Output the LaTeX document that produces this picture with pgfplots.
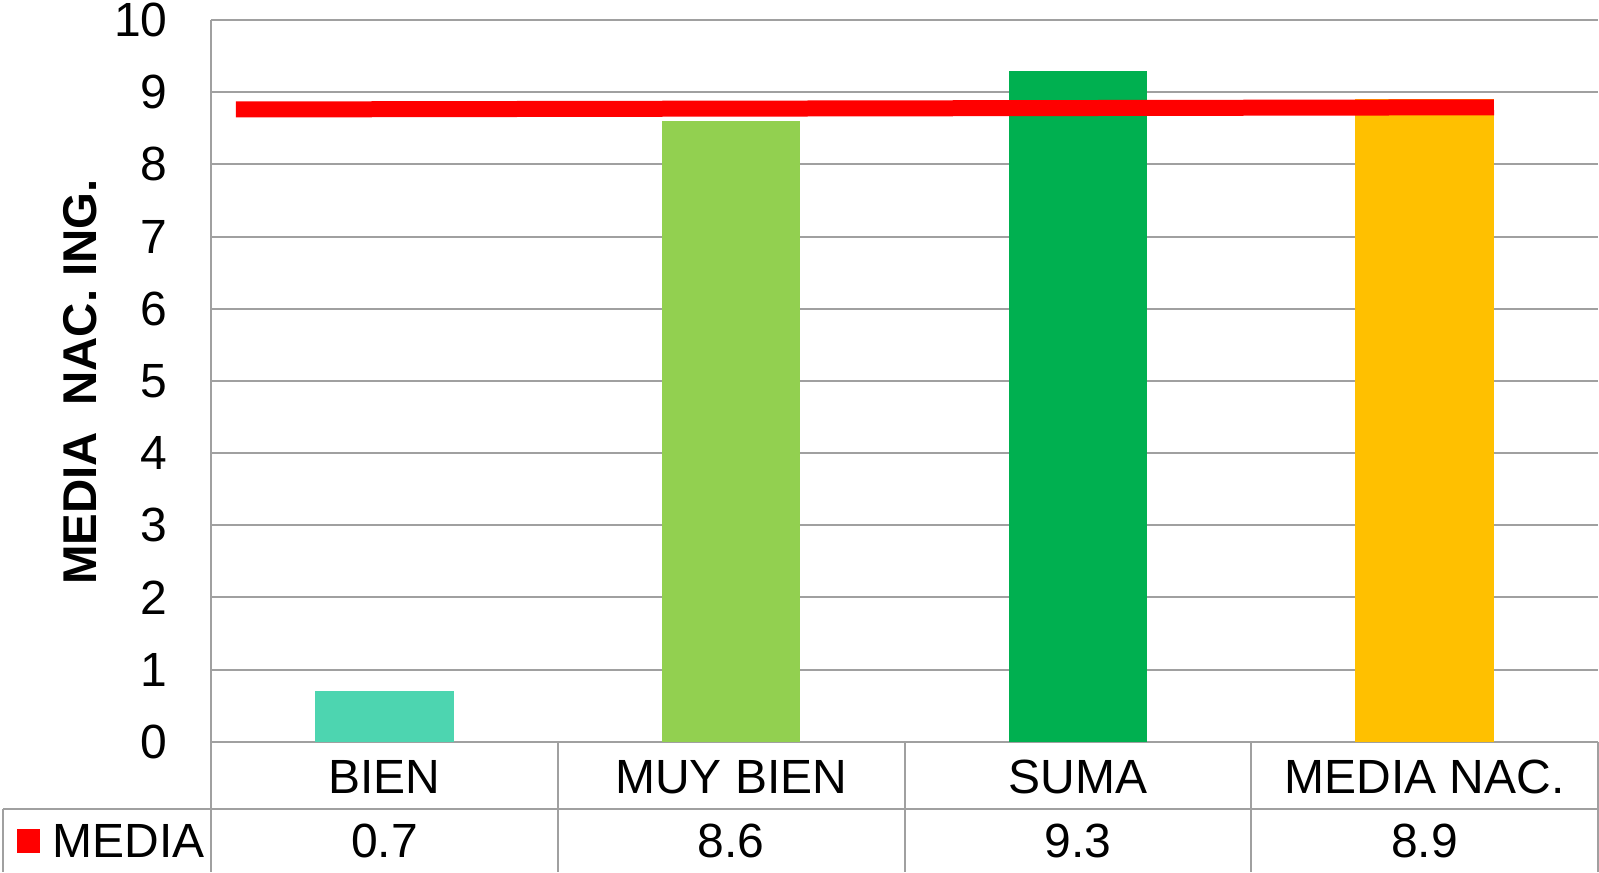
\documentclass[border=0pt]{standalone}
\usepackage{fontspec}
\setmainfont{Liberation Sans}
\usepackage{pgfplots}
\pgfplotsset{compat=1.18}
\definecolor{cBien}{HTML}{4DD5B0}
\definecolor{cMuy}{HTML}{92D050}
\definecolor{cSuma}{HTML}{00B050}
\definecolor{cNac}{HTML}{FFC000}
\definecolor{cGrid}{HTML}{A0A0A0}
\newcommand{\tfont}{\fontsize{24}{28}\selectfont}
\begin{document}
\begin{tikzpicture}
\begin{axis}[
  at={(0,0)}, anchor=south west,
  scale only axis, width=693.5pt, height=360.85pt,
  xmin=-0.5, xmax=3.5, ymin=0, ymax=10,
  axis line style={draw=none},
  ymajorgrids, grid style={cGrid, line width=1pt},
  ytick={0,1,...,10}, xtick={0,1,2,3},
  xticklabels={BIEN,MUY BIEN,SUMA,MEDIA NAC.},
  major tick length=0pt,
  tick label style={font=\tfont, inner sep=0pt},
  /pgf/number format/assume math mode=true,
  yticklabel style={anchor=east, xshift=-21.5pt},
  xticklabel style={anchor=base, yshift=-25.9pt},
  ylabel={MEDIA\ \ NAC. ING.},
  ylabel style={font=\fontsize{23.7}{28}\selectfont\bfseries, at={(axis description cs:-0.0945,0.4986)}, anchor=center, inner sep=0pt},
  clip=false,
  bar width=0.4, bar shift=0pt,
]
\addplot[ybar, fill=cBien, draw=none] coordinates {(0,0.7)};
\addplot[ybar, fill=cMuy, draw=none] coordinates {(1,8.6)};
\addplot[ybar, fill=cSuma, draw=none] coordinates {(2,9.3)};
\addplot[ybar, fill=cNac, draw=none] coordinates {(3,8.9)};
\addplot[red, line width=8pt, line cap=butt, mark=none] coordinates {(-0.428,8.76) (3.2,8.79)};
\addplot[draw=none, mark=none, point meta=explicit symbolic, nodes near coords,
  every node near coord/.append style={anchor=base, inner sep=0pt, yshift=-57.65pt, font=\tfont, text=black}]
  coordinates {(0,0) [0.7] (1,0) [8.6] (2,0) [9.3] (3,0) [8.9]};
\end{axis}
\draw[cGrid, line width=1pt] (0,360.85pt) -- (0,-65.15pt);
\draw[cGrid, line width=1pt] (-104pt,-33.65pt) -- (693.5pt,-33.65pt);
\foreach \xx in {173.375, 346.75, 520.125, 693.5}
  \draw[cGrid, line width=1pt] (\xx pt,0) -- (\xx pt,-65.15pt);
\draw[cGrid, line width=1pt] (-104pt,-33.65pt) -- (-104pt,-65.15pt);
\fill[red] (-97pt,-55.65pt) rectangle (-85.5pt,-43.65pt);
\node[anchor=base west, inner sep=0pt, font=\tfont] at (-79.5pt,-57.65pt) {MEDIA};
\pgfresetboundingbox
\useasboundingbox (-105.5pt,-65.15pt) rectangle (694pt,370.85pt);
\end{tikzpicture}
\end{document}
